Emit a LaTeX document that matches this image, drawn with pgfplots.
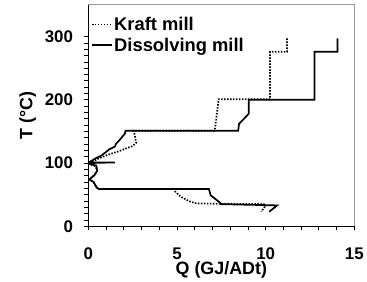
\documentclass[border=0pt]{standalone}
\usepackage{fontspec}
\setmainfont{Liberation Sans}
\usepackage{pgfplots}
\pgfplotsset{compat=1.18}
\begin{document}
\begin{tikzpicture}
\begin{axis}[
  scale only axis, width=268pt, height=223pt,
  xmin=0, xmax=15, ymin=0, ymax=350,
  axis x line*=bottom, axis y line*=left,
  axis line style={-, line width=1pt, black},
  xtick={0,5,10,15}, ytick={0,100,200,300},
  minor x tick num=4, minor y tick num=9,
  tick align=outside,
  major tick length=4pt, minor tick length=4pt,
  tick style={black, line width=0.7pt},
  ticklabel style={font=\fontsize{17}{19}\selectfont\bfseries},
  /pgf/number format/assume math mode=true,
  xticklabel style={yshift=-14pt},
  yticklabel style={xshift=-8pt},
  xlabel={Q (GJ/ADt)}, ylabel={T (°C)},
  label style={font=\fontsize{18}{20}\selectfont\bfseries},
  xlabel style={yshift=5pt},
  ylabel style={yshift=2pt},
  legend style={at={(0.01,0.955)}, anchor=north west, draw=none, fill=none,
    font=\fontsize{18.5}{20}\selectfont\bfseries, row sep=2pt,
    inner xsep=0pt, inner ysep=0pt,
    nodes={inner xsep=1.5pt}},
  legend cell align=left,
  legend image code/.code={\draw[#1] (0pt,0pt) -- (20pt,0pt);},
]
\addplot[black, line width=1.7pt, dash pattern=on 1.5pt off 1.5pt] coordinates {
(11.2,297) (11.2,276) (10.25,276) (10.25,201) (7.35,201) (7.25,178) (7.15,155) (7.1,151)
(2.55,151) (2.6,146) (2.7,132) (2.5,127) (1.75,119) (1.2,114) (0.65,108) (0.35,104)
(0.05,101) (0.0,99) (0.4,95) (0.5,88) (0.35,81) (0.05,74) (0.3,70) (0.45,62) (0.58,59)
(4.85,59) (4.9,55) (5.2,47) (5.65,40) (6.1,36) (9.9,35) (9.95,31) (9.75,23)
};
\addlegendentry{Kraft mill}
\addplot[black, line width=1.7pt] coordinates {
(14.05,297) (14.05,276) (12.75,276) (12.75,200) (9.05,200) (9.05,178) (8.5,162) (8.45,151)
(2.1,151) (2.05,146) (1.75,136) (1.55,130) (1.5,126) (1.2,122) (0.75,112) (0.45,108)
(0.15,103) (0.05,101) (1.5,101) (0.1,100) (0.0,99) (0.45,96) (0.5,88) (0.35,81)
(0.05,74) (0.3,70) (0.45,62) (0.58,59) (6.8,59) (6.9,49) (7.35,39) (7.5,35)
(10.65,33) (10.2,23)
};
\addlegendentry{Dissolving mill}
\end{axis}
\draw[gray!80, line width=1pt] (current axis.north west) -- (current axis.north east) -- (current axis.south east);
\path ([xshift=-89pt,yshift=5pt]current axis.north west);
\path ([xshift=10pt,yshift=-55pt]current axis.south east);
\end{tikzpicture}
\end{document}
